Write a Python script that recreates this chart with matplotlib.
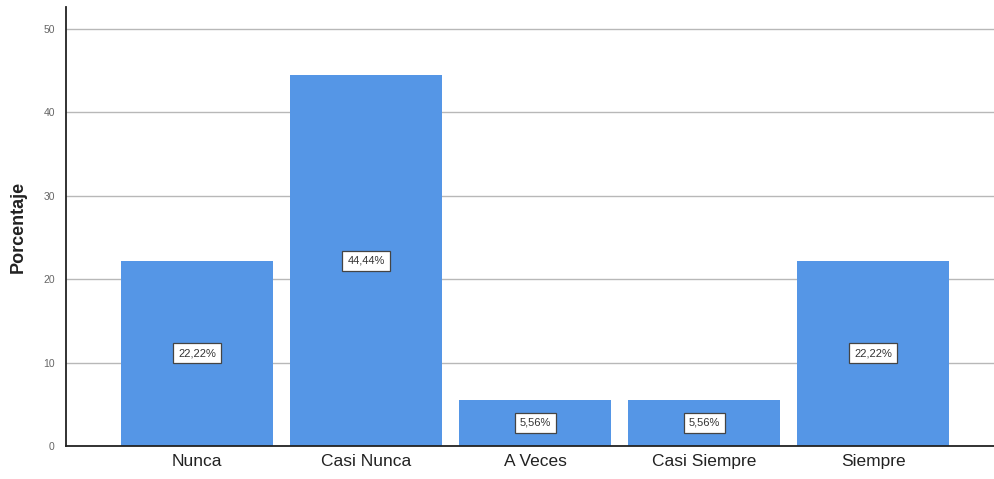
import matplotlib.pyplot as plt

plt.rcParams["font.family"] = ["Liberation Sans", "DejaVu Sans"]

# Data
categorias = ["Nunca", "Casi Nunca", "A Veces", "Casi Siempre", "Siempre"]
porcentajes = [22.22, 44.44, 5.56, 5.56, 22.22]
etiquetas = ["22,22%", "44,44%", "5,56%", "5,56%", "22,22%"]
yticks = [0, 10, 20, 30, 40, 50]

fig = plt.figure(figsize=(9.95, 4.79), dpi=100)
ax = fig.add_axes([0.0663, 0.0689, 0.9337, 0.9165])

x = range(len(categorias))
bars = ax.bar(x, porcentajes, width=0.9, color="#5596e6", zorder=2)

# value boxes at mid-height of each bar
for b, lab in zip(bars, etiquetas):
    ax.text(b.get_x() + b.get_width() / 2, b.get_height() / 2, lab,
            ha="center", va="center", fontsize=8, color="#333333", zorder=3,
            bbox=dict(boxstyle="square,pad=0.45", fc="white", ec="#444444", lw=0.9))

ax.set_xlim(-0.776, 4.72)
ax.set_ylim(0, 52.6)
ax.set_yticks(yticks)
ax.set_yticklabels([str(t) for t in yticks], fontsize=7.5, color="#666666")
ax.set_xticks(list(x))
ax.set_xticklabels(categorias, fontsize=12.5, color="#222222")
ax.tick_params(axis="both", length=0)
ax.tick_params(axis="y", pad=8)
ax.tick_params(axis="x", pad=6)

ax.yaxis.grid(True, color="#b8b8b8", lw=1, zorder=0)
ax.set_axisbelow(True)
for s in ["top", "right"]:
    ax.spines[s].set_visible(False)
for s in ["left", "bottom"]:
    ax.spines[s].set_color("#222222")
    ax.spines[s].set_linewidth(1.3)

ax.set_ylabel("Porcentaje", fontsize=13, fontweight="bold", color="#222222", labelpad=12)

fig.savefig("out.png", dpi=100)
